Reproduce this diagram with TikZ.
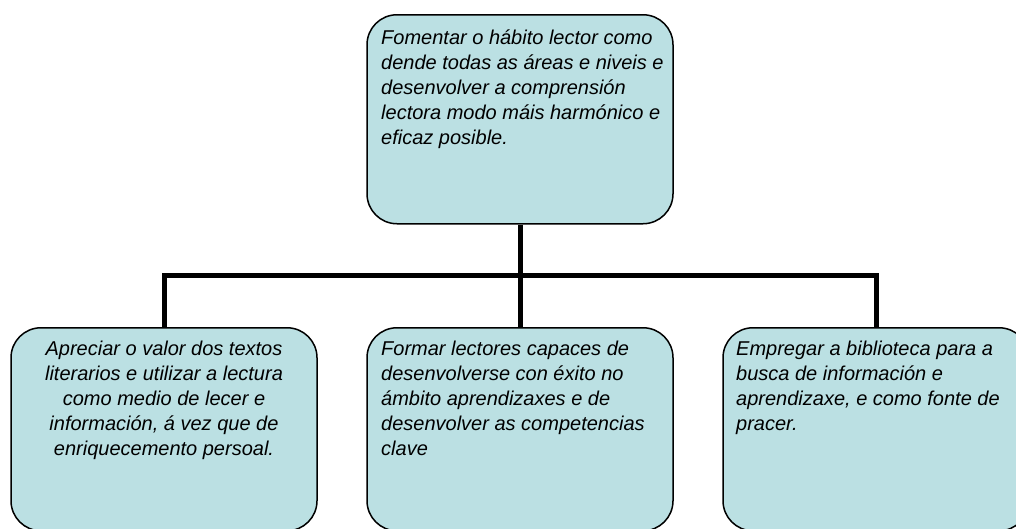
\documentclass[tikz,border=0pt]{standalone}
\usepackage{fontspec}
\setmainfont{Liberation Sans}
\definecolor{boxfill}{RGB}{187,224,227}
\tikzset{
  goalbox/.style={draw=black, line width=1.5pt, fill=boxfill, rounded corners=30pt,
    minimum width=306pt, inner sep=0pt, anchor=north},
  goaltext/.style={inner sep=0pt, anchor=north west, align=left,
    font=\fontsize{20}{25}\selectfont\itshape},
  conn/.style={line width=5pt, line cap=butt}
}
\begin{document}
\begin{tikzpicture}[x=1pt,y=-1pt]
\useasboundingbox (0,0) rectangle (1016,528);
\node[goalbox, minimum height=209pt] (top) at (520,14) {};
\node[goalbox, minimum height=203pt] (left) at (164,327) {};
\node[goalbox, minimum height=203pt] (mid) at (520,327) {};
\node[goalbox, minimum height=203pt] (right) at (876,327) {};
\coordinate (j) at (520,275);
\draw[conn] (top.south) -- (mid.north);
\draw[conn] (left.north) -- (left.north |- j) -- (right.north |- j) -- (right.north);
\node[goaltext] (ttop) at (381,26.5) {\strut Fomentar o hábito lector como\\dende todas as áreas e niveis e\\desenvolver a comprensión\\lectora modo máis harmónico e\\eficaz posible.};
\node[goaltext, anchor=north, align=center] (tleft) at (164,337.5) {\strut Apreciar o valor dos textos\\literarios e utilizar a lectura\\como medio de lecer e\\información, á vez que de\\enriquecemento persoal.};
\node[goaltext] (tmid) at (381,337.5) {\strut Formar lectores capaces de\\desenvolverse con éxito no\\ámbito aprendizaxes e de\\desenvolver as competencias\\clave};
\node[goaltext] (tright) at (736,337.5) {\strut Empregar a biblioteca para a\\busca de información e\\aprendizaxe, e como fonte de\\pracer.};
\end{tikzpicture}
\end{document}
